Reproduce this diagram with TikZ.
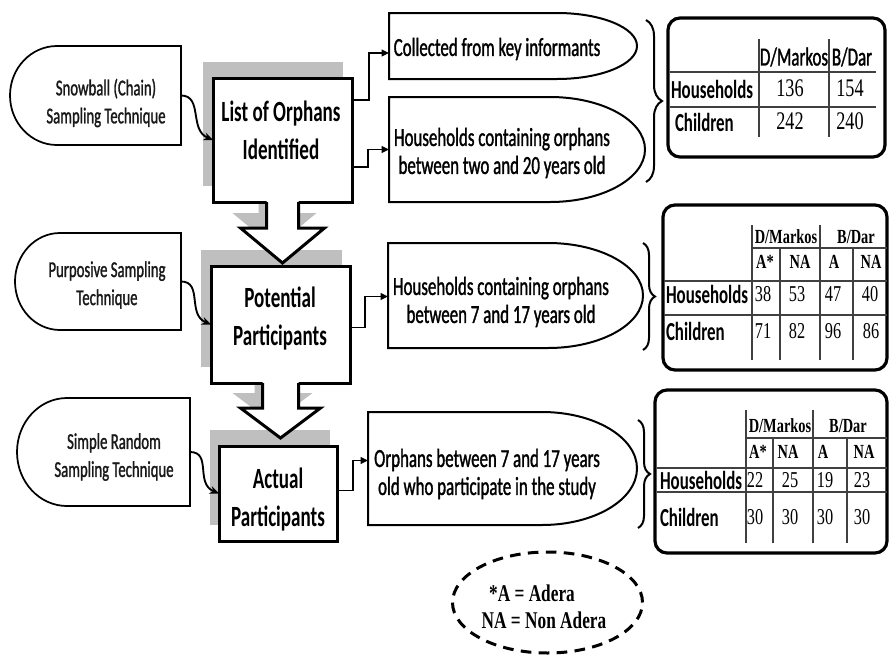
\documentclass[tikz,border=0pt]{standalone}
\usepackage{fontspec}
\setmainfont{Carlito}[FakeStretch=0.65]
\newfontfamily\medfont{Carlito}[FakeStretch=0.65,FakeBold=1.2]
\newfontfamily\serifA{Liberation Serif}[FakeStretch=0.72]
\usetikzlibrary{calc,arrows.meta,decorations.pathreplacing,shapes.geometric}
\pgfdeclarelayer{bg}
\pgfsetlayers{bg,main}
\newcommand{\rcapshape}[3]{\draw[capline] (#1.north west) -- ([xshift=-#2]#1.north east) arc[start angle=90,end angle=-90,x radius=#2,y radius=#3] -- (#1.south west) -- cycle;}
\newcommand{\lcapshape}[3]{\draw[techline] (#1.north east) -- ([xshift=#2]#1.north west) arc[start angle=90,end angle=270,x radius=#2,y radius=#3] -- (#1.south east) -- cycle;}
\tikzset{
 every node/.style={inner sep=0pt, outer sep=0pt},
 techbox/.style={draw=none},
 techtxt/.style={font=\medfont\fontsize{17}{21}\selectfont, align=center, text=black!90},
 techline/.style={line width=1.3pt},
 mainbox/.style={draw, line width=2.25pt, fill=white},
 maintxt/.style={font=\bfseries\fontsize{22}{28.5}\selectfont, align=center},
 capline/.style={line width=1.5pt},
 captxt/.style={font=\medfont\fontsize{19.5}{21}\selectfont, align=center},
 tablebox/.style={draw, line width=2.4pt, rounded corners=9pt, fill=white},
 tabrule/.style={line width=1.1pt, draw=black!75},
 thickrule/.style={line width=2pt, draw=black!75},
 lbl/.style={anchor=west, font=\bfseries\fontsize{19.5}{21}\selectfont},
 hdrA/.style={font=\medfont\fontsize{19.5}{21}\selectfont},
 numA/.style={font=\serifA\fontsize{19}{21}\selectfont},
 hdrB/.style={font=\serifA\bfseries\fontsize{15}{17}\selectfont},
 numB/.style={font=\serifA\fontsize{17}{18}\selectfont},
 elbow/.style={line width=1.1pt, -{Triangle[length=5.5pt,width=5pt]}},
 curvy/.style={line width=1.4pt, -{Stealth[length=7pt,width=6pt]}},
 bigarrow/.style={line width=2.25pt},
 shadowfill/.style={fill=black!25},
 bracey/.style={decorate, decoration={brace, amplitude=#1}, line width=1.5pt},
}
\begin{document}
\begin{tikzpicture}[x=0.75pt,y=-0.75pt]
\begin{pgfonlayer}{bg}
\fill[white] (0,0) rectangle (889,657);
\end{pgfonlayer}
\useasboundingbox (0,0) rectangle (889,657);

% technique shapes
\node[techbox, minimum width=128.25pt, minimum height=74.25pt] (snow) at (95.5,95.5) {};
\node[techbox, minimum width=124.5pt, minimum height=72.75pt] (purp) at (98,281.5) {};
\node[techbox, minimum width=129.75pt, minimum height=81pt] (simp) at (103.5,452) {};
\lcapshape{snow}{35.25pt}{37.125pt}
\lcapshape{purp}{33.75pt}{36.375pt}
\lcapshape{simp}{37.5pt}{40.5pt}
\node[techtxt] (snowt) at (106,103) {Snowball (Chain)\\Sampling Technique};
\node[techtxt] (purpt) at (107,285) {Purposive Sampling\\Technique};
\node[techtxt] (simpt) at (114,457) {Simple Random\\Sampling Technique};

% main boxes
\node[mainbox, minimum width=104.25pt, minimum height=93pt] (list) at (282.5,140) {};
\node[mainbox, minimum width=104.25pt, minimum height=87.75pt] (pot) at (280.5,324.5) {};
\node[mainbox, minimum width=88.5pt, minimum height=71.25pt] (act) at (278,493.5) {};
\node[maintxt] (listt) at (281,130) {List of Orphans\\Identified};
\node[maintxt] (pott) at (280,318) {Potential\\Participants};
\node[maintxt] (actt) at (278,500) {Actual\\Participants};

% shadows
\begin{pgfonlayer}{bg}
\fill[shadowfill] ($(list.north west)+(-10,-16)$) rectangle ($(list.south east)+(-9,-16)$);
\fill[shadowfill] ($(pot.north west)+(-10,-16)$) rectangle ($(pot.south east)+(-8,-16)$);
\fill[shadowfill] ($(act.north west)+(-9,-16)$) rectangle ($(act.south east)+(-7,-16)$);
\begin{scope}[shift={($(list.south)+(-8,-15)$)}]
\fill[shadowfill] (-16,-3) -- (-16,26) -- (-42,26) -- (0,61) -- (42,26) -- (16,26) -- (16,-3) -- cycle;
\end{scope}
\begin{scope}[shift={($(pot.south)+(-8,-15)$)}]
\fill[shadowfill] (-18,-3) -- (-18,25) -- (-40,25) -- (0,55) -- (40,25) -- (18,25) -- (18,-3) -- cycle;
\end{scope}
\end{pgfonlayer}

% block arrows
\begin{scope}[shift={(list.south)}]
\fill[white] (-16,-3) -- (-16,26) -- (-42,26) -- (0,61) -- (42,26) -- (16,26) -- (16,-3) -- cycle;
\draw[bigarrow] (-16,0) -- (-16,26) -- (-42,26) -- (0,61) -- (42,26) -- (16,26) -- (16,0);
\end{scope}
\begin{scope}[shift={(pot.south)}]
\fill[white] (-18,-3) -- (-18,25) -- (-40,25) -- (0,55) -- (40,25) -- (18,25) -- (18,-3) -- cycle;
\draw[bigarrow] (-18,0) -- (-18,25) -- (-40,25) -- (0,55) -- (40,25) -- (18,25) -- (18,0);
\end{scope}

% technique connectors
\draw[curvy] (snow.east) .. controls +(22,0) and +(-24,-10) .. (list.west);
\draw[curvy] (purp.east) .. controls +(22,0) and +(-24,-10) .. (pot.west);
\draw[curvy] (simp.east) .. controls +(22,0) and +(-24,-10) .. (act.west);

% right shapes
\node[techbox, minimum width=186pt, minimum height=49.5pt] (coll) at (513,46) {};
\node[techbox, minimum width=192pt, minimum height=78.75pt] (hh1) at (517,149.5) {};
\node[techbox, minimum width=191.25pt, minimum height=78.75pt] (hh2) at (515.5,295.5) {};
\node[techbox, minimum width=201.75pt, minimum height=84.75pt] (orph) at (502.5,468.5) {};
\rcapshape{coll}{60pt}{24.75pt}
\rcapshape{hh1}{71.25pt}{39.375pt}
\rcapshape{hh2}{71.25pt}{39.375pt}
\rcapshape{orph}{71.25pt}{42.375pt}
\node[captxt] (collt) at (497,49) {Collected from key informants};
\node[captxt] (hh1t) at (502,153) {Households containing orphans\\between two and 20 years old};
\node[captxt] (hh2t) at (501,302) {Households containing orphans\\between 7 and 17 years old};
\node[captxt] (orpht) at (487,474) {Orphans between 7 and 17 years\\old who participate in the study};

% elbow connectors
\draw[elbow] ($(list.north east)+(0,22)$) -- ++(17,0) |- ($(coll.west)+(0,7)$);
\draw[elbow] ($(list.south east)+(0,-35)$) -- ++(16,0) |- (hh1.west);
\draw[elbow] ($(pot.east)+(0,3)$) -- ++(15,0) |- ($(hh2.west)+(0,1)$);
\draw[elbow] ($(act.east)+(0,-3)$) -- ++(16,0) |- ($(orph.west)+(0,-8)$);

% braces
\draw[bracey=12pt] (646,20) -- (646,182);
\draw[bracey=9pt] (643,243) -- (643,350);
\draw[bracey=9pt] (638,420) -- (638,528);

% table 1
\node[tablebox, minimum width=162.75pt, minimum height=104.25pt] (t1) at (776.5,87.5) {};
\draw[tabrule] (670,72) -- (876,72) (670,107) -- (876,107) (759,39) -- (759,137) (829,39) -- (829,137);
\node[hdrA] (t1c1) at (794,57) {D/Markos};
\node[hdrA] (t1c2) at (852,57) {B/Dar};
\node[lbl] (t1r1) at (671,89) {Households};
\node[lbl] (t1r2) at (675,122) {Children};
\node[numA] (t1a) at (790,88) {136};
\node[numA] (t1b) at (850,88) {154};
\node[numA] (t1c) at (790,121) {242};
\node[numA] (t1d) at (850,121) {240};

% table 2
\node[tablebox, minimum width=168pt, minimum height=123.75pt] (t2) at (775,287.5) {};
\draw[tabrule] (752,225) -- (752,360) (820,225) -- (820,360) (780,248) -- (780,360) (853,248) -- (853,360) (752,248) -- (887,248) (664,315) -- (887,315);
\draw[thickrule] (664,281) -- (887,281);
\node[hdrB] (t2c1) at (786,237) {D/Markos};
\node[hdrB] (t2c2) at (856,237) {B/Dar};
\node[hdrB] (t2s1) at (765,262) {A*};
\node[hdrB] (t2s2) at (800,262) {NA};
\node[hdrB] (t2s3) at (834,262) {A};
\node[hdrB] (t2s4) at (871,262) {NA};
\node[lbl] (t2r1) at (666,294) {Households};
\node[lbl] (t2r2) at (666,331) {Children};
\node[numB] (t2a) at (763,294) {38};
\node[numB] (t2b) at (797,294) {53};
\node[numB] (t2c) at (833,294) {47};
\node[numB] (t2d) at (870,294) {40};
\node[numB] (t2e) at (763,331) {71};
\node[numB] (t2f) at (797,331) {82};
\node[numB] (t2g) at (833,331) {96};
\node[numB] (t2h) at (871,331) {86};

% table 3
\node[tablebox, minimum width=174pt, minimum height=122.25pt] (t3) at (771,471.5) {};
\draw[tabrule] (746,410) -- (746,543) (813,410) -- (813,543) (773,438) -- (773,543) (847,438) -- (847,543) (746,438) -- (887,438) (657,492) -- (887,492);
\draw[thickrule] (657,468) -- (887,468);
\node[hdrB] (t3c1) at (780,426) {D/Markos};
\node[hdrB] (t3c2) at (848,426) {B/Dar};
\node[hdrB] (t3s1) at (758,452) {A*};
\node[hdrB] (t3s2) at (788,452) {NA};
\node[hdrB] (t3s3) at (823,452) {A};
\node[hdrB] (t3s4) at (864,452) {NA};
\node[lbl] (t3r1) at (660,480) {Households};
\node[lbl] (t3r2) at (660,517) {Children};
\node[numB] (t3a) at (755,480) {22};
\node[numB] (t3b) at (790,480) {25};
\node[numB] (t3c) at (825,480) {19};
\node[numB] (t3d) at (862,480) {23};
\node[numB] (t3e) at (755,517) {30};
\node[numB] (t3f) at (790,517) {30};
\node[numB] (t3g) at (825,517) {30};
\node[numB] (t3h) at (862,517) {30};

% legend
\node[draw, ellipse, line width=2.25pt, dash pattern=on 8pt off 5.5pt, minimum width=142.5pt, minimum height=75.75pt] (legend) at (547.5,602.5) {};
\node[font=\serifA\bfseries\fontsize{18}{20.25}\selectfont, align=center] (legendt) at (544,607) {*A = Adera\hspace*{18pt}\\NA = Non Adera};
\end{tikzpicture}
\end{document}
